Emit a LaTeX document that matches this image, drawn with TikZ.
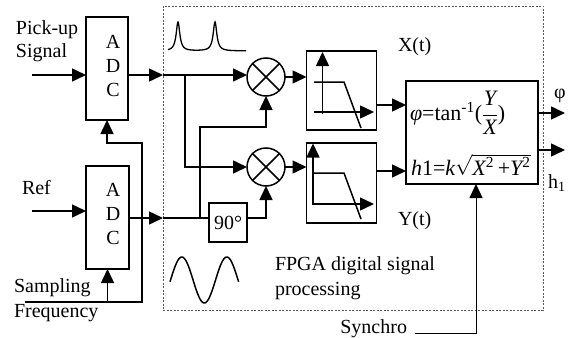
\documentclass[tikz,border=0pt]{standalone}
\usepackage{fontspec}
\setmainfont{Liberation Serif}
\usetikzlibrary{arrows.meta}
\begin{document}
\begin{tikzpicture}[x=1pt,y=-1pt,
  every node/.style={font=\fontsize{20}{24}\selectfont, inner sep=0pt, outer sep=0pt},
  box/.style={draw, line width=1.5pt},
  ln/.style={line width=1.5pt},
  arr/.style={line width=1.5pt, -{Triangle[length=14pt,width=13pt]}},
  mult/.style={draw, circle, line width=1.5pt, minimum size=38pt},
  txt/.style={anchor=base west},
  eq/.style={anchor=base west, font=\fontsize{22}{26}\selectfont},
]
\useasboundingbox (0,0) rectangle (572,337);

% FPGA dashed region
\node[draw=gray!70!black, dash pattern=on 2pt off 1.5pt, line width=0.8pt,
      minimum width=380pt, minimum height=304pt] (fpga) at (353,158) {};

% ADCs
\node[box, minimum width=42pt, minimum height=103pt] (adc1) at (107,68.5) {};
\node[align=center] (adc1t) at (113,66) {A\\D\\C};
\node[box, minimum width=43pt, minimum height=103pt] (adc2) at (107.5,217.5) {};
\node[align=center] (adc2t) at (113,214) {A\\D\\C};

% multipliers
\node[mult] (m1) at (266,77) {};
\draw[ln] (m1.north west) -- (m1.south east) (m1.north east) -- (m1.south west);
\node[mult] (m2) at (266,167) {};
\draw[ln] (m2.north west) -- (m2.south east) (m2.north east) -- (m2.south west);

% 90 deg
\node[box, minimum width=38pt, minimum height=39pt] (ph) at (228,222.5) {90°};

% filters
\node[box, minimum width=70pt, minimum height=79pt] (f1) at (341.5,90.5) {};
\node[box, minimum width=70pt, minimum height=80pt] (f2) at (341.5,183) {};
\begin{scope}[shift={(f1.center)}]
  \draw[arr] (-19,23.5) -- (-19,-38.5);
  \draw[arr] (-27.5,21.5) -- (32.5,21.5);
  \draw[ln] (-27.5,-8.5) -- (2.5,-8.5) -- (19.5,37.5);
\end{scope}
\begin{scope}[shift={(f2.center)}]
  \draw[arr] (-28.5,22) -- (-28.5,-39.5);
  \draw[arr] (-27.5,21) -- (32.5,21);
  \draw[ln] (-27.5,-10) -- (2.5,-10) -- (19.5,36);
\end{scope}

% computation box
\node[draw, line width=2pt, minimum width=132pt, minimum height=103pt] (comp) at (472,132.5) {};
\node[eq] (phieq) at (410,120) {{\itshape φ}=tan\textsuperscript{-1}($\displaystyle\frac{\hbox{\itshape Y}}{\hbox{\itshape X}}$)};
\node[eq] (heq) at (411,175) {{\itshape h}1=$\hbox{\itshape k}\sqrt{\hbox{{\itshape X}\textsuperscript{2}\,+{\itshape Y}\textsuperscript{2}}}$};

% texts
\node[txt] (pick) at (16,35) {Pick-up};
\node[txt] (sig) at (16,58) {Signal};
\node[txt] (ref) at (22,194) {Ref};
\node[txt] (samp) at (14,292) {Sampling};
\node[txt] (freq) at (14,317) {Frequency};
\node[txt] (fpgat) at (275,270) {FPGA digital signal};
\node[txt] (proc) at (275,295) {processing};
\node[txt] (xt) at (398,52) {X(t)};
\node[txt] (yt) at (398,225) {Y(t)};
\node[txt] (phil) at (554,98) {φ};
\node[txt] (hl) at (548,188) {h\textsubscript{1}};
\node[anchor=base east] (syn) at (407,333) {Synchro};

% inputs
\coordinate (pin) at (32,75);
\coordinate (rin) at (32,211);
\draw[arr] (pin) -- (pin -| adc1.west);
\draw[arr] (rin) -- (rin -| adc2.west);

% sampling frequency
\coordinate (sf) at (25,302);
\coordinate (sfc) at (142,302);
\coordinate (sft) at (142,143);
\draw[arr] (sf) -- (sfc) -- (sft) -| (adc1.south);
\draw[arr] (sf -| adc2.south) -- (adc2.south);

% top signal path
\draw[arr] (pin -| adc1.east) -- (pin -| fpga.west);
\draw[arr] (pin -| fpga.west) -- (pin -| m1.west);
\coordinate (b1) at (185,75);
\draw[arr] (b1) |- (m2.west);

% reference path
\coordinate (rout) at (adc2.east |- 0,218);
\draw[arr] (rout) -- (rout -| fpga.west);
\draw[ln] (rout -| fpga.west) -- (rout -| ph.west);
\coordinate (b2) at (200,218);
\coordinate (b2t) at (200,127);
\draw[arr] (b2) -- (b2t) -| (m1.south);
\draw[arr] (ph.east |- rout) -| (m2.south);

% to filters
\draw[arr] (m1.east) -- (m1.east -| f1.west);
\draw[arr] (m2.east) -- (m2.east -| f2.west);

% to computation
\coordinate (x1) at (f1.east |- 0,105);
\coordinate (y1) at (f2.east |- 0,171);
\draw[arr] (x1) -- (x1 -| comp.west);
\draw[arr] (y1) -- (y1 -| comp.west);

% outputs
\coordinate (phio) at (565,113);
\coordinate (ho) at (565,150);
\draw[arr] (comp.east |- phio) -- (phio);
\draw[arr] (comp.east |- ho) -- (ho);

% synchro
\coordinate (synl) at (415,333);
\coordinate (synr) at (476,333);
\draw[line width=1pt, -{Triangle[length=14pt,width=13pt]}] (synl) -- (synr) -- (synr |- comp.south);

% waveforms
\draw[line width=1.3pt] plot[domain=168:246, samples=200]
  (\x, {51 - 29*(1/(1+((\x-178)/2.2)^2) + 1/(1+((\x-215)/2.2)^2))});
\draw[line width=1.5pt] plot[domain=170:238.6, samples=120]
  (\x, {280 + 23*cos(360*(\x-204.3)/45)});
\end{tikzpicture}
\end{document}
